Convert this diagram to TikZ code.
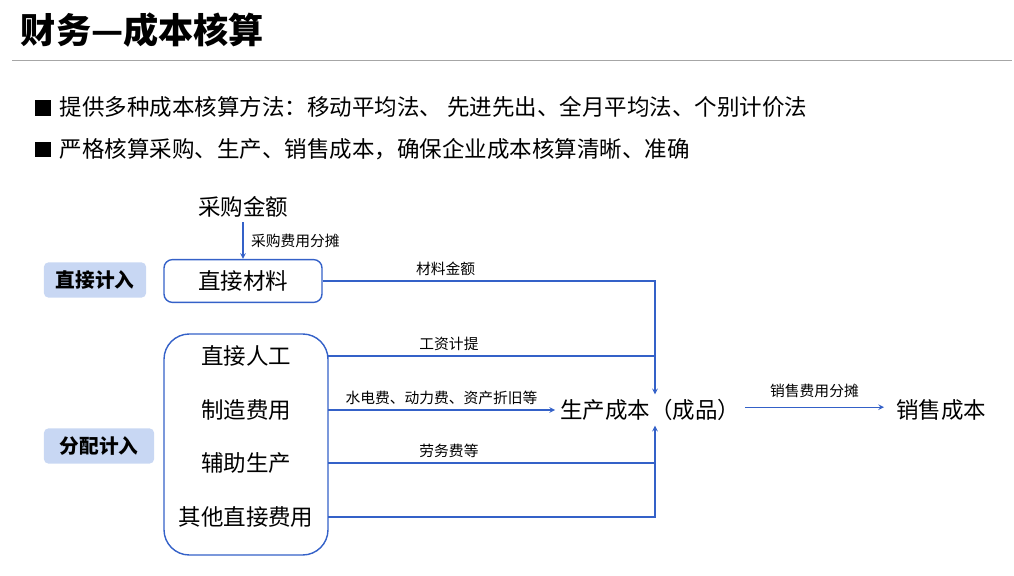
\documentclass[tikz,border=0pt]{standalone}
\usepackage{fontspec}
\setmainfont{Noto Sans CJK SC}
\definecolor{lineblue}{HTML}{3461C8}
\definecolor{tagblue}{HTML}{C8D7F3}
\tikzset{
    flow/.style = {draw=lineblue, line width=0.8pt},
    boxed/.style = {draw=lineblue, line width=1pt, rounded corners=6pt},
    tag/.style = {fill=tagblue, rounded corners=3pt, font=\bfseries\fontsize{14}{16}\selectfont},
    item/.style = {font=\fontsize{16}{18}\selectfont},
    note/.style = {font=\fontsize{10.5}{12}\selectfont}
}
\begin{document}
\begin{tikzpicture}[x=0.025cm,y=-0.025cm,>=stealth]
    \useasboundingbox (0,0) rectangle (1014,576);
    % title
    \node[anchor=west, font=\bfseries\fontsize{25}{28}\selectfont] (title) at (16,30) {财务—成本核算};
    \draw[gray!70, line width=0.6pt] (12,60) -- (1012,60);
    % bullets
    \node[anchor=west, font=\fontsize{16}{18}\selectfont] (b1) at (30,107) {\rule{0.7em}{0.7em}\hspace{0.4em}提供多种成本核算方法：移动平均法、 先进先出、全月平均法、个别计价法};
    \node[anchor=west, font=\fontsize{16}{18}\selectfont] (b2) at (30,149) {\rule{0.7em}{0.7em}\hspace{0.4em}严格核算采购、生产、销售成本，确保企业成本核算清晰、准确};
    % tags
    \node[tag, minimum width=2.55cm, minimum height=0.875cm] (direct) at (95,280) {直接计入};
    \node[tag, minimum width=2.75cm, minimum height=0.875cm] (alloc) at (99,446) {分配计入};
    % left boxes
    \node[item] (buy) at (243,207) {采购金额};
    \node[item, boxed, minimum width=3.95cm, minimum height=1.07cm] (mat) at (243,281) {直接材料};
    \draw[boxed, rounded corners=18pt] (164,334) rectangle (328,555);
    \node[item] (labor) at (246,356) {直接人工};
    \node[item] (manu) at (246,410) {制造费用};
    \node[item] (aux) at (246,463) {辅助生产};
    \node[item] (other) at (246,517) {其他直接费用};
    \coordinate (rgt) at (328,0);
    % right side
    \node[item] (prod) at (650,410) {生产成本（成品）};
    \node[item] (sale) at (941,410) {销售成本};
    \coordinate (jn) at (655,0);
    % connectors
    \draw[flow, ->] (buy) -- node[note, right, xshift=2pt] {采购费用分摊} (mat);
    \draw[flow, ->] (mat.east) -- node[note, above, pos=0.37] {材料金额} (mat.east -| jn) -- (prod.north -| jn);
    \draw[flow] (labor -| rgt) -- node[note, above, pos=0.37] {工资计提} (labor -| jn);
    \draw[flow, ->] (manu -| rgt) -- node[note, above] {水电费、动力费、资产折旧等} (prod.west);
    \draw[flow, ->] (aux -| rgt) -- node[note, above, pos=0.37] {劳务费等} (aux -| jn) -- (prod.south -| jn);
    \draw[flow] (other -| rgt) -- (other -| jn) -- (aux -| jn);
    \draw[flow, ->] ([yshift=2pt]prod.east) -- node[note, above=3pt] {销售费用分摊} ([xshift=-5pt,yshift=2pt]sale.west);
\end{tikzpicture}
\end{document}
